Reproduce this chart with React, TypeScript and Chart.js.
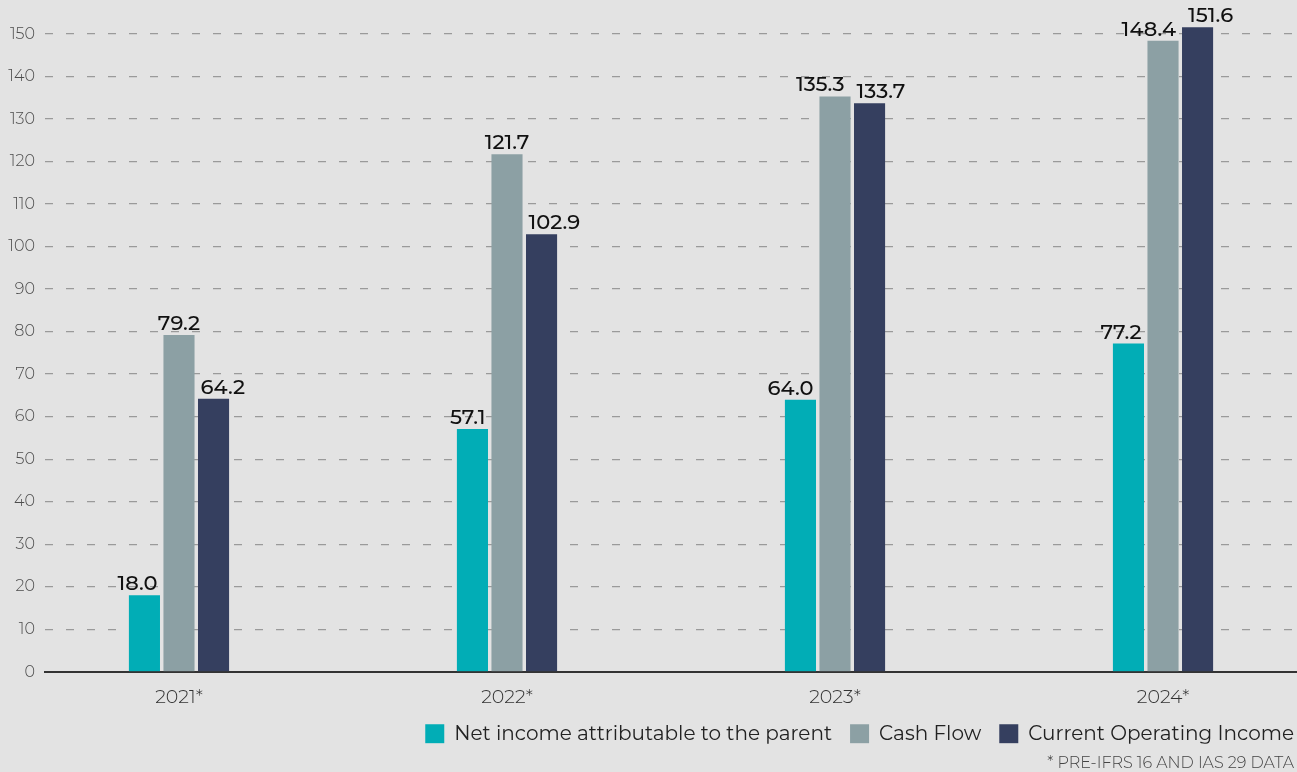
import React, { useEffect, useRef } from "react";
import { Chart, registerables } from "chart.js";

Chart.register(...registerables);

const categories = ["2021*", "2022*", "2023*", "2024*"];
const seriesNames = ["Net income attributable to the parent", "Cash Flow", "Current Operating Income"];
const netIncome = [18.0, 57.1, 64.0, 77.2];
const cashFlow = [79.2, 121.7, 135.3, 148.4];
const operatingIncome = [64.2, 102.9, 133.7, 151.6];
const seriesColors = ["#01adb6", "#8ca0a4", "#353f5f"];
const footnote = "* PRE-IFRS 16 AND IAS 29 DATA";

const FONT = "Montserrat, Inter, 'Noto Sans', sans-serif";
const LABEL_SIZE = 21;
const CAP = 15;
const LABEL_LIFT = 5;
const BAR_MARGIN = 6;
const LABEL_GAP = 12;

const valueLabels = {
  id: "valueLabels",
  afterDatasetsDraw(chart: any) {
    const ctx = chart.ctx;
    ctx.save();
    ctx.font = `500 ${LABEL_SIZE}px ${FONT}`;
    ctx.fillStyle = "#111111";
    ctx.textAlign = "center";
    ctx.textBaseline = "alphabetic";
    const nGroups = categories.length;
    const nSeries = chart.data.datasets.length;
    for (let g = 0; g < nGroups; g++) {
      const items: any[] = [];
      for (let s = 0; s < nSeries; s++) {
        const bar = chart.getDatasetMeta(s).data[g];
        const v = chart.data.datasets[s].data[g].y;
        const text = v.toFixed(1);
        const w = ctx.measureText(text).width;
        const base = bar.y - LABEL_LIFT;
        items.push({ text, w, cx: bar.x, base, top: base - CAP, bar, fixed: false });
      }
      // keep labels clear of taller neighbouring bars
      items.forEach((it, i) => {
        items.forEach((other, j) => {
          if (i === j) return;
          const b = other.bar;
          const bl = b.x - b.width / 2;
          const br = b.x + b.width / 2;
          if (b.y >= it.base) return;
          const l = it.cx - it.w / 2 - BAR_MARGIN;
          const r = it.cx + it.w / 2 + BAR_MARGIN;
          if (r > bl && l < br) {
            if (b.x > it.bar.x) it.cx = bl - BAR_MARGIN - it.w / 2;
            else it.cx = br + BAR_MARGIN + it.w / 2;
            it.fixed = true;
          }
        });
      });
      // push apart labels that collide
      for (let i = 0; i < items.length - 1; i++) {
        const a = items[i];
        const b = items[i + 1];
        const vOverlap = a.top < b.base + 2 && b.top < a.base + 2;
        if (!vOverlap) continue;
        const gap = b.cx - b.w / 2 - (a.cx + a.w / 2);
        if (gap < LABEL_GAP) {
          const need = LABEL_GAP - gap;
          if (a.fixed && !b.fixed) b.cx += need;
          else if (b.fixed && !a.fixed) a.cx -= need;
          else {
            a.cx -= need / 2;
            b.cx += need / 2;
          }
        }
      }
      items.forEach((it) => ctx.fillText(it.text, it.cx, it.base));
    }
    ctx.restore();
  },
};

const LEGEND_PAD = 18;
const LEGEND_SHIFT_X = 15;
const LEGEND_SHIFT_Y = 8;
const LEGEND_HEIGHT = 38;

const layoutTweaks = {
  id: "layoutTweaks",
  beforeLayout(chart: any) {
    const lg = chart.legend;
    if (lg && !lg.__patched) {
      const orig = lg.update.bind(lg);
      lg.update = (...args: any[]) => {
        const r = orig(...args);
        lg.height = LEGEND_HEIGHT;
        return r;
      };
      lg.__patched = true;
    }
  },
  afterLayout(chart: any) {
    const lg = chart.legend;
    if (lg) {
      lg.left += LEGEND_SHIFT_X;
      lg.right += LEGEND_SHIFT_X;
      lg.top -= LEGEND_SHIFT_Y;
      lg.bottom -= LEGEND_SHIFT_Y;
    }
    chart.boxes.forEach((b: any) => {
      if (b.options && b.options.text === footnote) {
        b.left -= 3;
        b.right -= 3;
        b.top += 1.5;
        b.bottom += 1.5;
      }
    });
  },
};

export default function App() {
  const ref = useRef<HTMLCanvasElement>(null);
  useEffect(() => {
    if (!ref.current) return;
    const all = [netIncome, cashFlow, operatingIncome];
    const chart = new Chart(ref.current, {
      type: "bar",
      data: {
        datasets: all.map((arr, k) => ({
          label: seriesNames[k],
          data: arr.map((v, i) => ({ x: i, y: v })),
          backgroundColor: seriesColors[k],
          borderWidth: 0,
          categoryPercentage: 0.316,
          barPercentage: 0.9,
        })),
      },
      plugins: [valueLabels, layoutTweaks],
      options: {
        animation: false,
        responsive: false,
        maintainAspectRatio: false,
        layout: { padding: { top: 12.7, right: 0, left: 0, bottom: 0 } },
        scales: {
          x: {
            type: "linear",
            offset: false,
            min: -0.4085,
            max: 3.4085,
            afterBuildTicks: (scale: any) => {
              scale.ticks = categories.map((_, i) => ({ value: i }));
            },
            afterFit: (scale: any) => {
              scale.height = 42;
              scale.paddingLeft = 0;
              scale.paddingRight = 0;
            },
            ticks: {
              callback: (v: any) => categories[v] ?? "",
              color: "#333333",
              font: { family: FONT, size: 19, weight: "300" },
              padding: 14,
              maxRotation: 0,
              autoSkip: false,
            },
            grid: { display: false, drawTicks: false },
            border: { display: true, color: "#333333", width: 2 },
          },
          y: {
            min: 0,
            max: 155,
            afterFit: (scale: any) => {
              scale.width = 45;
              scale.paddingTop = 0;
              scale.paddingBottom = 0;
            },
            ticks: {
              stepSize: 10,
              includeBounds: false,
              color: "#4d4d4d",
              font: { family: FONT, size: 16, weight: "300" },
              padding: 10,
            },
            grid: {
              color: "#9a9a9a",
              lineWidth: 1.3,
              drawTicks: false,
            },
            border: { display: false, dash: [8, 13] },
          },
        },
        plugins: {
          legend: {
            position: "bottom",
            align: "end",
            labels: {
              boxWidth: 19,
              boxHeight: 19,
              padding: LEGEND_PAD,
              color: "#222222",
              font: { family: FONT, size: 20 },
            },
          },
          subtitle: {
            display: true,
            text: footnote,
            position: "bottom",
            align: "end",
            color: "#444444",
            font: { family: FONT, size: 16, weight: "300" },
            padding: { top: 0, bottom: 1 },
          },
          tooltip: { enabled: false },
        },
      } as any,
    });
    return () => chart.destroy();
  }, []);
  return (
    <div style={{ position: "fixed", left: 0, top: 0, width: 1297, height: 772, background: "#e3e3e3" }}>
      <canvas ref={ref} width={1297} height={772} style={{ width: 1297, height: 772, display: "block" }} />
    </div>
  );
}
